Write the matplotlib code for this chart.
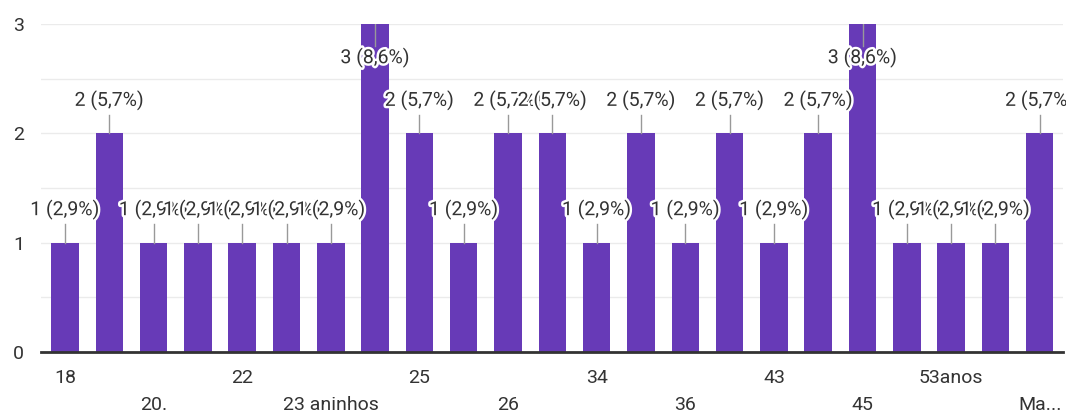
import matplotlib
matplotlib.use("Agg")
import matplotlib.pyplot as plt
import matplotlib.patheffects as pe

# answers (ages) - odd labels are hidden in the chart, guessed
categories = ["18", "19", "20.", "21", "22", "23", "23 aninhos", "24", "25",
              "25 anos", "26", "30", "34", "35", "36", "40", "43", "44", "45",
              "50", "53anos", "55", "Ma..."]
counts = [1, 2, 1, 1, 1, 1, 1, 3, 2, 1, 2, 2, 1, 2, 1, 2, 1, 2, 3, 1, 1, 1, 2]
yticks = [0, 1, 2, 3]

plt.rcParams['font.family'] = ['Roboto', 'DejaVu Sans']

total = sum(counts)
purple = "#673ab7"
txt = "#333333"

fig = plt.figure(figsize=(10.66, 4.18), dpi=100)
ax = fig.add_axes([0.0385, 0.158, 0.9585, 0.7846])

x = list(range(len(categories)))
ax.bar(x, counts, width=0.62, color=purple, zorder=2)

ymax = max(counts)
for i, v in enumerate(counts):
    label = f"{v} ({v / total * 100:.1f}%)".replace(".", ",")
    if v == ymax:
        ax.plot([i, i], [v, v - 0.2], color="#999999", lw=1, zorder=3)
        ty = v - 0.31
    else:
        ax.plot([i, i], [v, v + 0.17], color="#999999", lw=1, zorder=3)
        ty = v + 0.3
    ax.text(i, ty, label, ha="center", va="center", fontsize=14, color=txt,
            zorder=4, path_effects=[pe.withStroke(linewidth=3.5, foreground="white")])

ax.set_xlim(-0.54, len(categories) - 0.48)
ax.set_ylim(0, 3)
ax.set_yticks(yticks)
ax.set_yticks([0.5, 1.5, 2.5], minor=True)
ax.grid(axis="y", which="both", color="#ebebeb", lw=1, zorder=0)
ax.set_axisbelow(True)

shown = x[::2]
ax.set_xticks(shown)
ax.set_xticklabels([categories[i] for i in shown])
for k, t in enumerate(ax.xaxis.get_major_ticks()):
    t.set_pad(12 if k % 2 == 0 else 32)

ax.tick_params(axis="both", which="both", length=0, labelsize=14, colors=txt)
ax.tick_params(axis="y", pad=12)

for s in ["top", "right", "left"]:
    ax.spines[s].set_visible(False)
ax.spines["bottom"].set_color("#333333")
ax.spines["bottom"].set_linewidth(2)
ax.spines["bottom"].set_zorder(5)

fig.savefig("out.png", dpi=100)
